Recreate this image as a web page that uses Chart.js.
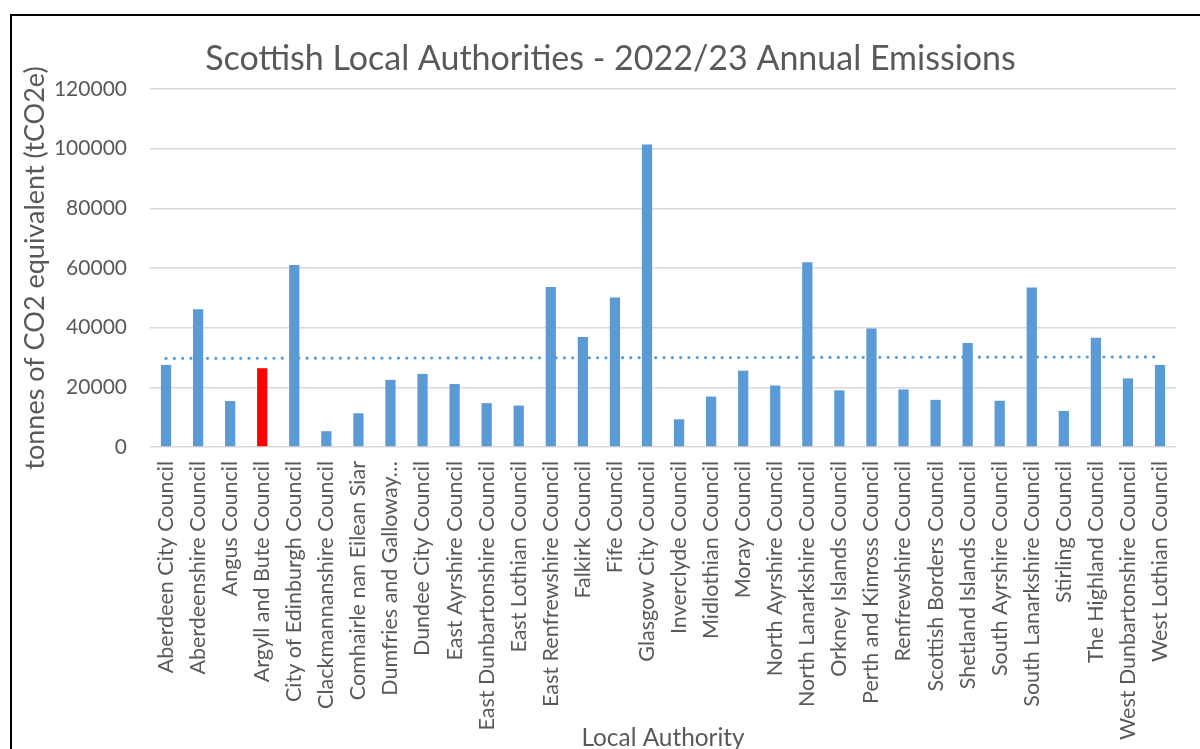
<!DOCTYPE html>
<html>
<head>
<meta charset="utf-8">
<title>Scottish Local Authorities - 2022/23 Annual Emissions</title>
<script src="https://cdn.jsdelivr.net/npm/chart.js@4.4.1/dist/chart.umd.min.js"></script>
<style>
    html, body { margin: 0; padding: 0; background: #ffffff; overflow: hidden; }
    #wrap { position: relative; width: 1200px; height: 749px; }
    #frame {
        position: absolute; left: 10px; top: 14px; width: 1300px; height: 800px;
        border-top: 2px solid #000; border-left: 2px solid #000; pointer-events: none;
    }
</style>
</head>
<body>
<div id="wrap">
    <canvas id="emissionsChart" width="1200" height="749"></canvas>
    <div id="frame"></div>
</div>

<script>
// categories (as shown on the axis)
const authorities = [
    "Aberdeen City Council", "Aberdeenshire Council", "Angus Council", "Argyll and Bute Council",
    "City of Edinburgh Council", "Clackmannanshire Council", "Comhairle nan Eilean Siar",
    "Dumfries and Galloway\u2026", "Dundee City Council", "East Ayrshire Council",
    "East Dunbartonshire Council", "East Lothian Council", "East Renfrewshire Council",
    "Falkirk Council", "Fife Council", "Glasgow City Council", "Inverclyde Council",
    "Midlothian Council", "Moray Council", "North Ayrshire Council", "North Lanarkshire Council",
    "Orkney Islands Council", "Perth and Kinross Council", "Renfrewshire Council",
    "Scottish Borders Council", "Shetland Islands Council", "South Ayrshire Council",
    "South Lanarkshire Council", "Stirling Council", "The Highland Council",
    "West Dunbartonshire Council", "West Lothian Council"
];

// annual emissions, tCO2e
const emissions = [
    27500, 46200, 15400, 26400,
    61000, 5300, 11300,
    22500, 24500, 21100,
    14700, 13900, 53600,
    36900, 50100, 101400, 9300,
    16900, 25600, 20600, 61900,
    19000, 39700, 19300,
    15800, 34900, 15500,
    53500, 12100, 36600,
    23000, 27500
];

// linear trend line, value at first and last category
const trendEnds = [29700, 30200];

const yTicks = [0, 20000, 40000, 60000, 80000, 100000, 120000];

const highlighted = "Argyll and Bute Council";

const textColor = "#595959";
const fontFamily = "Lato, 'Open Sans', sans-serif";

let barColors = authorities.map(a => a === highlighted ? "#FF0000" : "#5B9BD5");

let trendData = [
    { x: authorities[0], y: trendEnds[0] },
    { x: authorities[authorities.length - 1], y: trendEnds[1] }
];

let ctx = document.getElementById("emissionsChart").getContext("2d");
let emissionsChart = new Chart(ctx, {
    type: "bar",
    data: {
        labels: authorities,
        datasets: [{
            type: "line",
            label: "Trend",
            data: trendData,
            borderColor: "#5B9BD5",
            borderWidth: 3.2,
            borderDash: [0, 8.3],
            borderCapStyle: "round",
            pointRadius: 0,
            fill: false,
            order: 1
        }, {
            label: "Emissions (tCO2e)",
            data: emissions,
            backgroundColor: barColors,
            borderWidth: 0,
            barPercentage: 0.32,
            categoryPercentage: 1.0,
            order: 2
        }]
    },
    options: {
        responsive: false,
        animation: false,
        // left padding moves the title centre right, as in the original
        layout: { padding: { left: 32, right: 11, top: 0, bottom: 0 } },
        plugins: {
            legend: { display: false },
            tooltip: { enabled: false },
            title: {
                display: true,
                text: "Scottish Local Authorities - 2022/23 Annual Emissions",
                color: textColor,
                font: { family: fontFamily, size: 34, weight: "normal" },
                padding: { top: 38.6, bottom: 9.6 }
            }
        },
        scales: {
            x: {
                grid: { display: false, drawTicks: false },
                border: { display: false },
                ticks: {
                    autoSkip: false,
                    minRotation: 90,
                    maxRotation: 90,
                    padding: 14,
                    color: textColor,
                    font: { family: fontFamily, size: 21.5 }
                },
                title: {
                    display: true,
                    text: "Local Authority",
                    color: textColor,
                    font: { family: fontFamily, size: 24.4 },
                    padding: { top: 0, bottom: -3.6 }
                },
                afterFit: function (scale) { scale.height = 302; }
            },
            y: {
                min: 0,
                max: 120000,
                afterBuildTicks: function (scale) {
                    scale.ticks = yTicks.map(v => ({ value: v }));
                },
                grid: { color: "#D9D9D9", lineWidth: 1.5, drawTicks: false },
                border: { display: false },
                ticks: {
                    padding: 23,
                    color: textColor,
                    font: { family: fontFamily, size: 21 },
                    callback: function (value) { return String(value); }
                },
                title: {
                    display: true,
                    text: "tonnes of CO2 equivalent (tCO2e)",
                    color: textColor,
                    font: { family: fontFamily, size: 27 },
                    padding: { top: -13.2, bottom: 0 }
                },
                afterFit: function (scale) { scale.width = 118; }
            }
        }
    }
});
</script>
</body>
</html>
